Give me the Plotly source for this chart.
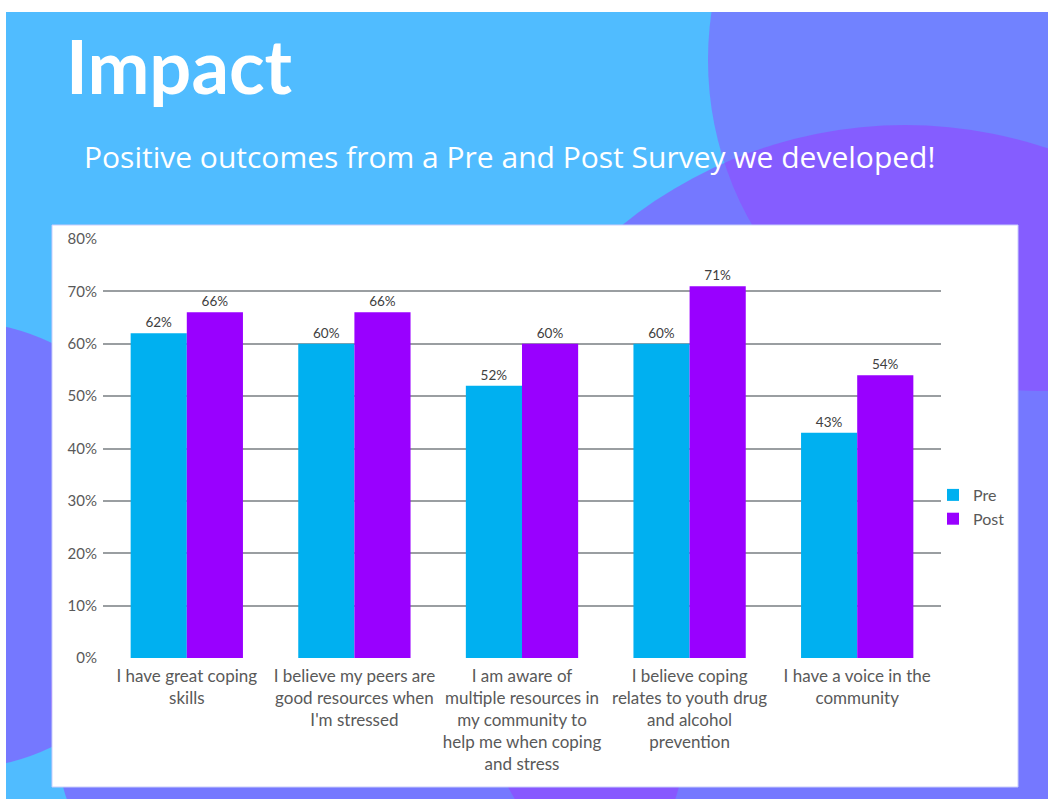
import plotly.graph_objects as go

categories = [
    "I have great coping<br>skills",
    "I believe my peers are<br>good resources when<br>I'm stressed",
    "I am aware of<br>multiple resources in<br>my community to<br>help me when coping<br>and stress",
    "I believe coping<br>relates to youth drug<br>and alcohol<br>prevention",
    "I have a voice in the<br>community",
]
pre_values = [0.62, 0.60, 0.52, 0.60, 0.43]
post_values = [0.66, 0.66, 0.60, 0.71, 0.54]
series_names = ["Pre", "Post"]
title_text = "Impact"
subtitle_text = "Positive outcomes from a Pre and Post Survey we developed!"

W, H = 1048, 799
ML, MR, MT, MB = 103, 107, 239, 141
PW = W - ML - MR
PH = H - MT - MB


def px(x):
    return (x - ML) / PW


def py(y):
    return (H - MB - y) / PH


def circle(cx, cy, r, color):
    return dict(type="circle", xref="paper", yref="paper", layer="below",
                x0=px(cx - r), x1=px(cx + r), y0=py(cy + r), y1=py(cy - r),
                fillcolor=color, line=dict(width=0))


def rect(x0, y0, x1, y1, color, line=None):
    return dict(type="rect", xref="paper", yref="paper", layer="below",
                x0=px(x0), x1=px(x1), y0=py(y1), y1=py(y0),
                fillcolor=color, line=line or dict(width=0))


PURPLE_A = "rgba(152,60,255,0.46)"
PURPLE = "rgba(152,60,255,0.53)"

shapes = [
    rect(6, 12, 1060, 810, "#50bcff"),
    circle(1039, 60, 331, PURPLE_A),
    circle(905, 575, 450, PURPLE),
    circle(371, 700, 320, PURPLE),
    circle(-45, 545, 224, PURPLE),
    rect(-20, -20, 1070, 12, "white"),
    rect(-20, -20, 6, 820, "white"),
    rect(52, 225, 1018, 787, "white", dict(color="#c9cdfb", width=1)),
]

fig = go.Figure()
fig.add_trace(go.Bar(
    name=series_names[0], x=categories, y=pre_values,
    marker=dict(color="#00b0f0", line=dict(width=0)),
    text=pre_values, texttemplate="%{y:.0%}", textposition="outside",
    textfont=dict(family="Lato", size=13.5, color="#404040"), cliponaxis=False,
))
fig.add_trace(go.Bar(
    name=series_names[1], x=categories, y=post_values,
    marker=dict(color="#9900ff", line=dict(width=0)),
    text=post_values, texttemplate="%{y:.0%}", textposition="outside",
    textfont=dict(family="Lato", size=13.5, color="#404040"), cliponaxis=False,
))

fig.update_layout(
    width=W, height=H,
    margin=dict(l=ML, r=MR, t=MT, b=MB, pad=0),
    paper_bgcolor="white", plot_bgcolor="white",
    barmode="group", bargap=0.33, bargroupgap=0,
    font=dict(family="Lato", color="#595959"),
    shapes=shapes,
    showlegend=True,
    legend=dict(x=px(933), y=py(507), xanchor="left", yanchor="middle",
                font=dict(family="Lato", size=16, color="#595959"),
                bgcolor="rgba(0,0,0,0)", itemwidth=30, tracegroupgap=2),
    annotations=[
        dict(text=title_text, xref="paper", yref="paper", x=px(64), y=py(65),
             xanchor="left", yanchor="middle", showarrow=False,
             font=dict(family="Lato", size=74, color="white", weight="bold")),
        dict(text=subtitle_text, xref="paper", yref="paper", x=px(82), y=py(156),
             xanchor="left", yanchor="middle", showarrow=False,
             font=dict(family="Open Sans", size=30, color="white")),
    ],
)
fig.update_xaxes(
    showgrid=False, showline=False, ticks="",
    tickfont=dict(family="Lato", size=17, color="#595959"),
    tickangle=0, ticklabelstandoff=6,
)
fig.update_yaxes(
    range=[0, 0.8], dtick=0.1, tickformat=".0%",
    showgrid=True, gridcolor="#9a9ea1", gridwidth=2,
    zeroline=True, zerolinecolor="white", zerolinewidth=2,
    showline=False, ticks="", ticklabelstandoff=5,
    tickfont=dict(family="Lato", size=15, color="#595959"),
)

fig.write_html("out.html")
